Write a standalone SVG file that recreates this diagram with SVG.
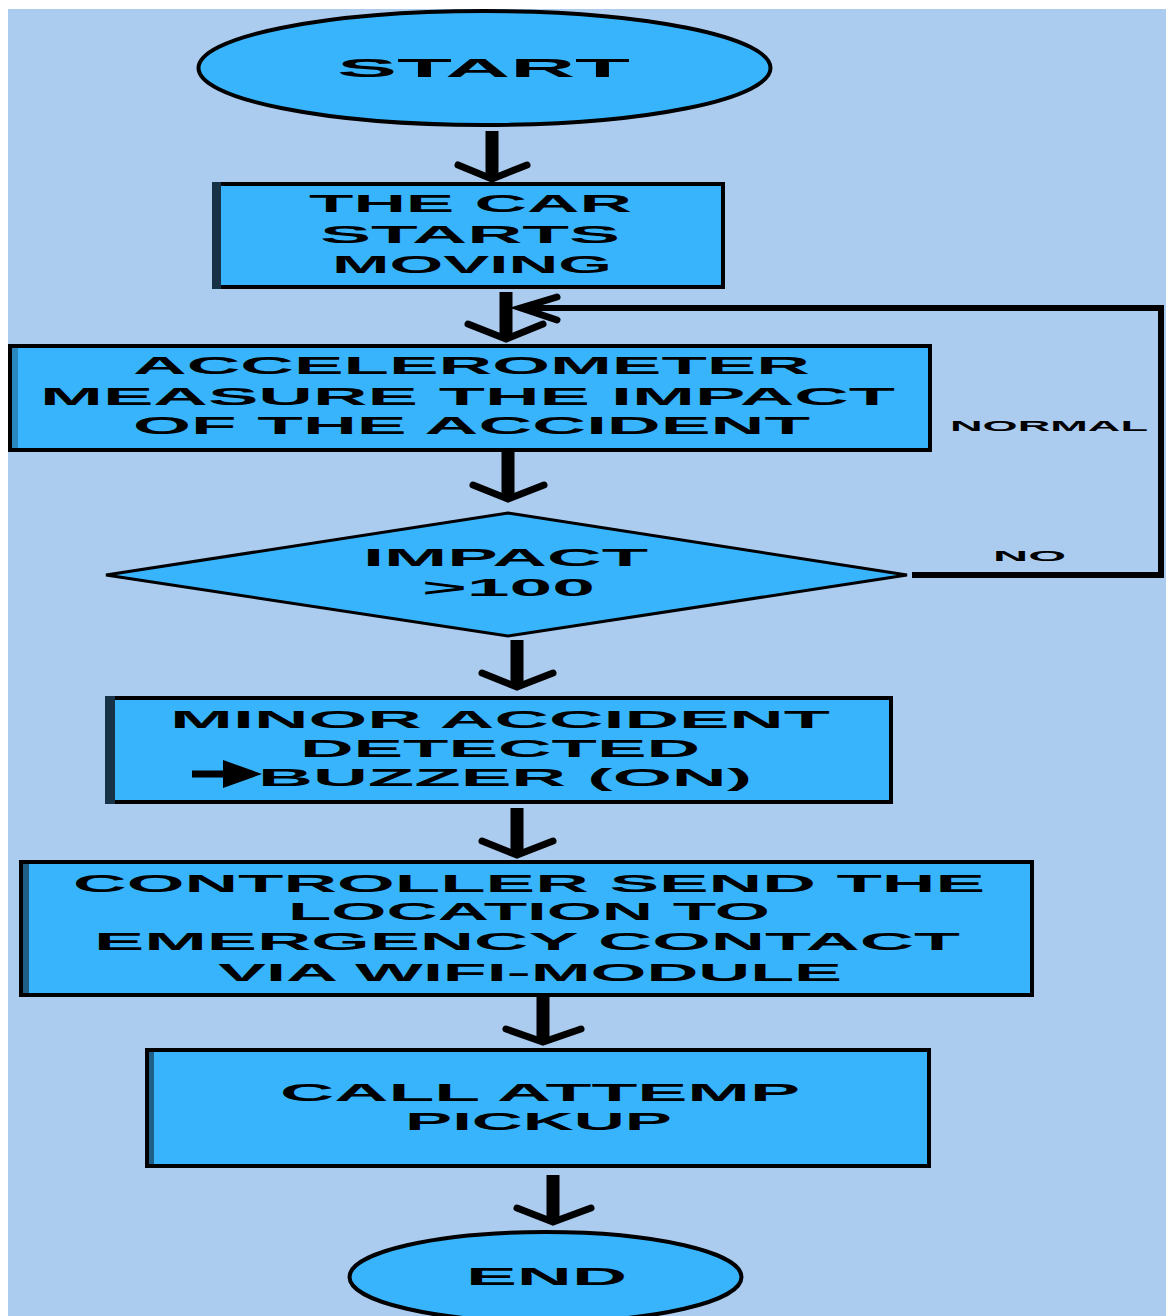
<svg xmlns="http://www.w3.org/2000/svg" width="1166" height="1316" viewBox="0 0 1166 1316">
<style>
.bg{fill:#abcbef}
.n{fill:#38b4fc;stroke:#000;stroke-width:4}
.d{fill:#38b4fc;stroke:#000;stroke-width:3}
.edge{fill:#173247}
.t{font-family:"Liberation Sans",Arial,sans-serif;font-weight:bold;font-size:24px;fill:#000}
.s{font-family:"Liberation Sans",Arial,sans-serif;font-weight:bold;font-size:14px;fill:#000}
.shaft{stroke:#000;stroke-width:13;fill:none}
.head{stroke:#000;stroke-width:7;fill:none;stroke-linejoin:miter;stroke-linecap:round}
.loop{stroke:#000;stroke-width:6;fill:none}
</style>
<rect width="1166" height="1316" fill="#fff"/>
<rect class="bg" x="8" y="9" width="1158" height="1307"/>

<g id="connectors">
  <g id="c1"><line class="shaft" x1="492" y1="131" x2="492" y2="176"/><polyline class="head" points="458,165 492,179 527,165"/></g>
  <g id="c2"><line class="shaft" x1="506" y1="292" x2="506" y2="336"/><polyline class="head" points="468,324 506,339 543,324"/></g>
  <g id="c3"><line class="shaft" x1="508" y1="452" x2="508" y2="496"/><polyline class="head" points="473,485 508,499 544,485"/></g>
  <g id="c4"><line class="shaft" x1="517" y1="640" x2="517" y2="684"/><polyline class="head" points="482,673 517,687 553,673"/></g>
  <g id="c5"><line class="shaft" x1="517" y1="808" x2="517" y2="852"/><polyline class="head" points="482,841 517,855 553,841"/></g>
  <g id="c6"><line class="shaft" x1="543" y1="997" x2="543" y2="1039"/><polyline class="head" points="506,1029 543,1042 581,1029"/></g>
  <g id="c7"><line class="shaft" x1="553" y1="1175" x2="553" y2="1219"/><polyline class="head" points="517,1208 553,1222 591,1208"/></g>
  <g id="c-loop">
    <polyline class="loop" points="912,575 1161,575 1161,308 522,308"/>
    <polyline class="head" points="557,297 521,308 557,320"/>
    <text class="s" x="950" y="431" textLength="198" lengthAdjust="spacingAndGlyphs">NORMAL</text>
    <text class="s" x="993" y="561" textLength="73" lengthAdjust="spacingAndGlyphs">NO</text>
  </g>
</g>

<g id="start">
  <ellipse class="n" cx="484.5" cy="68" rx="286" ry="57"/>
  <text class="t" style="font-size:26px" x="337" y="77" textLength="293" lengthAdjust="spacingAndGlyphs">START</text>
</g>

<g id="car-starts">
  <rect class="n" x="215" y="184" width="508" height="103"/>
  <rect class="edge" x="212" y="182" width="9" height="107"/>
  <text class="t" x="309" y="212" textLength="323" lengthAdjust="spacingAndGlyphs">THE CAR</text>
  <text class="t" x="320" y="243" textLength="300" lengthAdjust="spacingAndGlyphs">STARTS</text>
  <text class="t" x="332" y="273" textLength="280" lengthAdjust="spacingAndGlyphs">MOVING</text>
</g>

<g id="accelerometer">
  <rect class="n" x="10" y="346" width="920" height="104"/>
  <rect fill="#2a88c0" x="12" y="348" width="6" height="100"/>
  <text class="t" x="133" y="374" textLength="677" lengthAdjust="spacingAndGlyphs">ACCELEROMETER</text>
  <text class="t" x="40" y="405" textLength="855" lengthAdjust="spacingAndGlyphs">MEASURE THE IMPACT</text>
  <text class="t" x="133" y="434" textLength="677" lengthAdjust="spacingAndGlyphs">OF THE ACCIDENT</text>
</g>

<g id="impact">
  <polygon class="d" points="508,513 907,575 508,636 106,575"/>
  <text class="t" x="363" y="566" textLength="285" lengthAdjust="spacingAndGlyphs">IMPACT</text>
  <text class="t" x="422" y="596" textLength="173" lengthAdjust="spacingAndGlyphs">&gt;100</text>
</g>

<g id="minor">
  <rect class="n" x="108" y="698" width="783" height="104"/>
  <rect class="edge" x="105" y="696" width="10" height="108"/>
  <text class="t" x="170" y="728" textLength="660" lengthAdjust="spacingAndGlyphs">MINOR ACCIDENT</text>
  <text class="t" x="300" y="757" textLength="400" lengthAdjust="spacingAndGlyphs">DETECTED</text>
  <text class="t" x="258" y="786" textLength="494" lengthAdjust="spacingAndGlyphs">BUZZER (ON)</text>
  <line x1="192" y1="774" x2="230" y2="774" stroke="#000" stroke-width="7"/>
  <polygon points="223,760 262,774 223,788" fill="#000"/>
</g>

<g id="controller">
  <rect class="n" x="21" y="862" width="1011" height="133"/>
  <rect fill="#1f5f86" x="23" y="864" width="6" height="129"/>
  <text class="t" x="73" y="892" textLength="912" lengthAdjust="spacingAndGlyphs">CONTROLLER SEND THE</text>
  <text class="t" x="288" y="920" textLength="482" lengthAdjust="spacingAndGlyphs">LOCATION TO</text>
  <text class="t" x="94" y="950" textLength="866" lengthAdjust="spacingAndGlyphs">EMERGENCY CONTACT</text>
  <text class="t" x="218" y="981" textLength="624" lengthAdjust="spacingAndGlyphs">VIA WIFI-MODULE</text>
</g>

<g id="call">
  <rect class="n" x="147" y="1050" width="782" height="116"/>
  <rect fill="#1f5f86" x="149" y="1052" width="5" height="112"/>
  <text class="t" x="280" y="1101" textLength="520" lengthAdjust="spacingAndGlyphs">CALL ATTEMP</text>
  <text class="t" x="405" y="1130" textLength="267" lengthAdjust="spacingAndGlyphs">PICKUP</text>
</g>

<g id="end">
  <ellipse class="n" cx="545.5" cy="1277" rx="196" ry="45"/>
  <text class="t" x="466" y="1285" textLength="161" lengthAdjust="spacingAndGlyphs">END</text>
</g>
</svg>
